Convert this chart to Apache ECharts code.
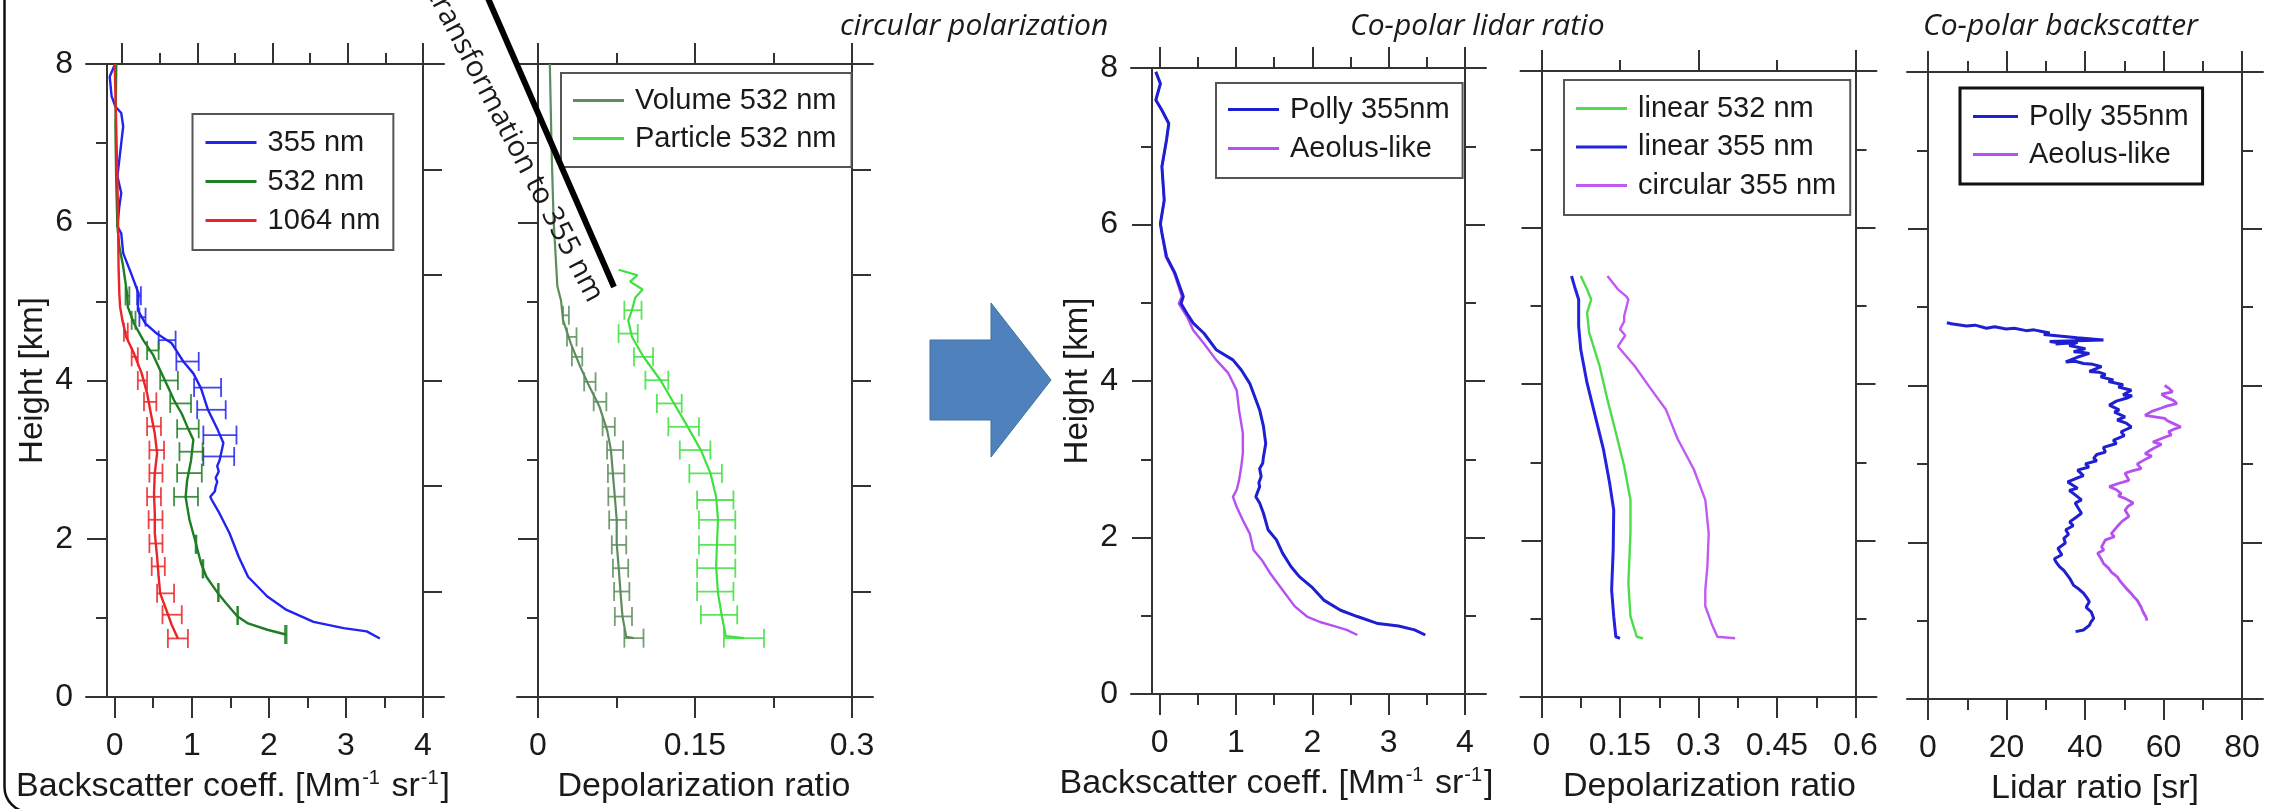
<!DOCTYPE html>
<html>
<head>
<meta charset="utf-8">
<script src="https://cdn.jsdelivr.net/npm/echarts@6/dist/echarts.min.js"></script>
<style>
  html, body { margin: 0; padding: 0; background: #fff; }
  #chart { width: 2271px; height: 809px; }
</style>
</head>
<body>
<div id="chart"></div>
<script>
// ---------- tick values ----------
const bscTicks = [0, 1, 2, 3, 4];
const bscMinor = [0.5, 1.5, 2.5, 3.5];
const depTicks = [0, 0.15, 0.3];
const depMinor = [0.075, 0.225];
const dep2Ticks = [0, 0.15, 0.3, 0.45, 0.6];
const dep2Minor = [0.075, 0.225, 0.375, 0.525];
const dep2TopTicks = [0, 0.3, 0.6];
const dep2TopMinor = [0.15, 0.45];
const lrTicks = [0, 20, 40, 60, 80];
const lrMinor = [10, 30, 50, 70];

// ---------- backscatter profiles, [value, height km] ----------
const bsc355 = [[3.44,0.74],[3.27,0.83],[2.97,0.87],[2.58,0.95],[2.23,1.10],[1.98,1.27],[1.73,1.52],[1.61,1.77],[1.49,2.07],[1.36,2.32],[1.26,2.49],[1.24,2.53],[1.30,2.60],[1.31,2.66],[1.33,2.72],[1.31,2.77],[1.35,2.85],[1.33,2.92],[1.36,2.99],[1.41,3.21],[1.34,3.37],[1.21,3.63],[1.12,3.90],[1.02,4.09],[0.89,4.24],[0.74,4.47],[0.55,4.59],[0.40,4.72],[0.30,4.89],[0.31,5.10],[0.21,5.36],[0.11,5.61],[0.085,5.86],[0.035,5.95],[0.06,6.20],[0.085,6.37],[0.035,6.58],[0.085,7.00],[0.11,7.21],[0.085,7.38],[0.01,7.46],[-0.04,7.59],[-0.065,7.84],[0.0,7.99]];
const bsc532 = [[2.22,0.79],[1.98,0.85],[1.73,0.93],[1.59,1.02],[1.44,1.19],[1.34,1.31],[1.19,1.52],[1.12,1.69],[1.04,1.99],[0.97,2.24],[0.94,2.41],[0.92,2.53],[0.94,2.74],[0.99,2.99],[1.02,3.25],[0.94,3.42],[0.87,3.58],[0.77,3.75],[0.69,3.92],[0.59,4.13],[0.50,4.32],[0.37,4.51],[0.25,4.72],[0.17,4.93],[0.16,5.10],[0.11,5.44],[0.06,5.69],[0.035,5.95],[0.02,6.5],[0.01,7.2],[0.02,8.0]];
const bsc1064 = [[0.82,0.74],[0.74,0.91],[0.67,1.10],[0.59,1.31],[0.57,1.52],[0.55,1.77],[0.52,2.07],[0.52,2.32],[0.51,2.57],[0.52,2.83],[0.55,3.08],[0.52,3.33],[0.47,3.58],[0.42,3.84],[0.35,4.09],[0.25,4.34],[0.15,4.55],[0.10,4.76],[0.07,4.93],[0.06,5.10],[0.05,5.44],[0.04,6.28],[0.02,7.2],[0.0,8.0]];
// error bars, [height km, low, high]
const err355 = [[5.07,0.29,0.34],[4.80,0.32,0.40],[4.51,0.57,0.79],[4.24,0.80,1.09],[3.91,1.03,1.38],[3.63,1.07,1.44],[3.31,1.15,1.58],[3.04,1.15,1.55]];
const err532 = [[0.79,2.21,2.23],[1.03,1.59,1.60],[1.32,1.34,1.35],[1.62,1.14,1.15],[1.93,1.05,1.06],[2.53,0.77,1.08],[2.83,0.81,1.13],[3.10,0.84,1.14],[3.39,0.81,1.09],[3.71,0.72,0.99],[4.00,0.59,0.82],[4.38,0.42,0.57],[4.76,0.22,0.27],[5.07,0.14,0.19]];
const err1064 = [[0.74,0.69,0.95],[1.04,0.62,0.87],[1.31,0.55,0.77],[1.65,0.48,0.65],[1.94,0.45,0.62],[2.24,0.44,0.62],[2.53,0.42,0.60],[2.83,0.45,0.62],[3.12,0.45,0.64],[3.42,0.42,0.60],[3.73,0.38,0.54],[4.00,0.30,0.42],[4.30,0.22,0.30],[4.61,0.12,0.17]];

// ---------- depolarization at 532 nm ----------
const volDep = [[0.0917,0.744],[0.0843,0.76],[0.0807,1.02],[0.0789,1.31],[0.0770,1.65],[0.0752,1.94],[0.0752,2.24],[0.0734,2.53],[0.0715,2.83],[0.0697,3.12],[0.0661,3.37],[0.0587,3.67],[0.0478,3.96],[0.0405,4.17],[0.0313,4.47],[0.024,4.76],[0.022,5.01],[0.0185,5.19],[0.0149,6.03],[0.0131,6.86],[0.0113,8.0]];
const parDep = [[0.197,0.744],[0.1794,0.77],[0.1757,1.02],[0.172,1.31],[0.1702,1.65],[0.171,1.94],[0.172,2.24],[0.1702,2.53],[0.1647,2.83],[0.1556,3.12],[0.1428,3.42],[0.13,3.71],[0.1172,4.0],[0.1008,4.30],[0.0898,4.55],[0.0862,4.76],[0.0898,4.89],[0.093,5.05],[0.1,5.15],[0.088,5.25],[0.095,5.33],[0.077,5.40]];
const errVol = [[0.744,0.0825,0.1008],[1.018,0.0734,0.0898],[1.333,0.0727,0.0873],[1.628,0.0716,0.0862],[1.922,0.0705,0.0843],[2.238,0.068,0.0843],[2.532,0.0672,0.0825],[2.826,0.0668,0.0825],[3.121,0.066,0.0813],[3.415,0.0617,0.0734],[3.731,0.0532,0.0653],[3.983,0.0441,0.055],[4.299,0.0324,0.0423],[4.551,0.0277,0.0368],[4.824,0.024,0.0295]];
const errPar = [[0.744,0.1776,0.2159],[1.039,0.1556,0.1903],[1.333,0.152,0.1867],[1.628,0.152,0.1885],[1.922,0.1538,0.1885],[2.238,0.1538,0.1885],[2.49,0.152,0.1867],[2.826,0.1446,0.1757],[3.121,0.1355,0.1647],[3.415,0.1245,0.1538],[3.71,0.1136,0.1373],[4.004,0.1026,0.1245],[4.299,0.0917,0.1099],[4.593,0.077,0.0953],[4.888,0.0825,0.0989]];

// ---------- co-polar backscatter at 355 nm ----------
const pollyBsc = [[3.48,0.754],[3.34,0.82],[3.13,0.87],[2.86,0.90],[2.59,0.99],[2.37,1.07],[2.15,1.20],[1.99,1.37],[1.83,1.50],[1.72,1.63],[1.61,1.80],[1.53,1.97],[1.42,2.10],[1.36,2.31],[1.31,2.44],[1.26,2.52],[1.31,2.65],[1.30,2.70],[1.33,2.78],[1.31,2.88],[1.35,2.95],[1.36,3.03],[1.39,3.20],[1.36,3.42],[1.31,3.63],[1.23,3.84],[1.18,3.97],[1.07,4.14],[0.96,4.27],[0.74,4.40],[0.58,4.61],[0.44,4.74],[0.36,4.86],[0.28,4.99],[0.31,5.08],[0.20,5.38],[0.09,5.59],[0.03,5.89],[0.01,6.01],[0.06,6.31],[0.03,6.74],[0.09,7.08],[0.12,7.29],[0.03,7.46],[-0.05,7.59],[0.01,7.80],[-0.05,7.95]];
const aeolusBsc = [[2.59,0.754],[2.45,0.82],[2.31,0.86],[2.10,0.92],[1.93,0.99],[1.77,1.12],[1.61,1.33],[1.45,1.54],[1.34,1.71],[1.23,1.84],[1.18,2.05],[1.09,2.22],[1.01,2.39],[0.96,2.52],[1.01,2.61],[1.04,2.73],[1.07,2.91],[1.09,3.08],[1.09,3.33],[1.04,3.63],[1.01,3.88],[0.90,4.10],[0.74,4.27],[0.58,4.48],[0.44,4.65],[0.36,4.82],[0.25,4.99],[0.29,5.08],[0.19,5.38],[0.08,5.59],[0.03,5.89],[0.01,6.01],[0.06,6.31],[0.03,6.74],[0.09,7.08],[0.12,7.29],[0.03,7.46],[-0.05,7.59],[0.01,7.80],[-0.05,7.95]];

// ---------- depolarization ratios ----------
const lin532 = [[0.194,0.75],[0.182,0.77],[0.170,1.03],[0.166,1.45],[0.170,2.10],[0.170,2.52],[0.158,2.95],[0.142,3.38],[0.126,3.80],[0.111,4.23],[0.091,4.66],[0.087,4.91],[0.095,5.08],[0.087,5.21],[0.075,5.38]];
const lin355 = [[0.150,0.75],[0.142,0.77],[0.138,1.03],[0.134,1.37],[0.137,1.88],[0.138,2.39],[0.130,2.74],[0.1185,3.16],[0.1027,3.59],[0.0868,4.02],[0.075,4.44],[0.071,4.74],[0.071,5.08],[0.063,5.25],[0.0574,5.38]];
const circ355 = [[0.370,0.75],[0.336,0.77],[0.325,0.94],[0.313,1.16],[0.313,1.37],[0.317,1.67],[0.3195,2.09],[0.313,2.52],[0.291,2.91],[0.26,3.30],[0.238,3.67],[0.2075,3.95],[0.178,4.23],[0.146,4.48],[0.16,4.62],[0.150,4.70],[0.158,4.80],[0.158,4.87],[0.166,5.08],[0.162,5.12],[0.146,5.21],[0.126,5.38]];

// ---------- lidar ratio [sr] ----------
const pollyLR = [[4.8,4.80],[6.8,4.78],[5.5,4.79],[9.8,4.76],[12,4.77],[14.9,4.73],[17,4.75],[19.9,4.72],[22,4.73],[25,4.70],[27,4.71],[29,4.69],[31,4.67],[29.5,4.65],[30,4.63],[38,4.61],[44.7,4.58],[31,4.56],[34.1,4.54],[32.5,4.53],[38.1,4.55],[36,4.51],[40.1,4.47],[37.1,4.43],[39.5,4.42],[41.1,4.41],[38,4.36],[35.1,4.30],[37.5,4.31],[39.6,4.28],[42,4.27],[44.2,4.24],[41.1,4.18],[43.5,4.17],[45.2,4.14],[44,4.11],[47.2,4.07],[46,4.05],[49.7,4.01],[48.5,3.98],[51.8,3.94],[49.7,3.88],[52,3.87],[50.7,3.84],[48,3.80],[46.2,3.75],[48.7,3.69],[47.5,3.66],[50.2,3.60],[48.2,3.56],[50.5,3.52],[51.8,3.47],[49.2,3.41],[50,3.36],[47.2,3.30],[48,3.26],[44.7,3.21],[45.2,3.15],[43,3.12],[42.2,3.07],[43,3.04],[40.1,3.00],[41,2.96],[38.1,2.92],[39.6,2.85],[37.5,2.81],[35.6,2.77],[38.1,2.69],[36,2.66],[37.1,2.62],[39.1,2.54],[37.5,2.50],[38.1,2.45],[39.1,2.37],[37.5,2.31],[36.1,2.26],[37,2.21],[35.1,2.16],[35.8,2.10],[34.6,2.05],[35,1.99],[33.1,1.92],[34.1,1.84],[32.2,1.79],[32.6,1.75],[33.5,1.69],[34.6,1.64],[35.5,1.58],[36.1,1.54],[37.1,1.45],[38.5,1.40],[39.6,1.35],[40.5,1.29],[41.1,1.24],[40.3,1.17],[41.6,1.11],[42.2,1.03],[41.5,0.98],[41.1,0.94],[39.6,0.88],[37.6,0.86]];
const aeolusLR = [[60.3,4.00],[61.5,3.96],[62.3,3.92],[59.5,3.89],[60.3,3.86],[62.5,3.81],[63.4,3.77],[61,3.74],[59.3,3.71],[57,3.67],[55.3,3.62],[60.3,3.58],[61,3.55],[62.3,3.52],[64.4,3.47],[62.5,3.44],[61.3,3.41],[62,3.37],[60.3,3.34],[57.3,3.28],[59.5,3.25],[58.3,3.22],[56.5,3.17],[55.3,3.13],[57,3.10],[55.8,3.07],[53.3,3.00],[54.3,2.94],[52,2.91],[50.2,2.88],[51.2,2.79],[48.5,2.75],[46.2,2.71],[48,2.67],[49.2,2.62],[48.5,2.59],[50.2,2.56],[52.3,2.50],[51,2.46],[50.2,2.41],[51.2,2.33],[49.5,2.27],[48.2,2.20],[46.7,2.11],[47.5,2.07],[45.2,2.03],[44.2,1.94],[44.8,1.90],[43.2,1.86],[44,1.80],[44.7,1.73],[46,1.67],[46.7,1.62],[48.2,1.56],[49,1.50],[50.2,1.43],[51.7,1.35],[52.5,1.30],[53.3,1.26],[54.3,1.17],[54.8,1.11],[55.5,1.05],[55.8,1.00]];

// ---------- layout ----------
const AX = '#333';
const FONT = '"Liberation Sans", Arial, sans-serif';
const NOTE_FONT = '"Open Sans", sans-serif';
const TXT = '#1a1a1a';
const bscName = 'Backscatter coeff. [Mm{s|-1} sr{s|-1}]';

const panels = [
  { left: 107, top: 64, width: 316, height: 633, xMin: -0.1, xMax: 4, topMin: -0.2,
    major: bscTicks, minor: bscMinor, topMajor: bscTicks, topMinor: bscMinor,
    xName: bscName, namePad: [0, 64, 0, 0], yLabels: true, rightMax: 6 },
  { left: 538, top: 64, width: 314, height: 633, xMin: 0, xMax: 0.3, topMin: 0,
    major: depTicks, minor: depMinor, topMajor: depTicks, topMinor: depMinor,
    xName: 'Depolarization ratio', namePad: [0, 0, 0, 18], yLabels: false, rightMax: 6 },
  { left: 1152, top: 68, width: 313, height: 626, xMin: -0.1, xMax: 4, topMin: -0.1,
    major: bscTicks, minor: bscMinor, topMajor: bscTicks, topMinor: bscMinor,
    xName: bscName, namePad: [0, 64, 0, 0], yLabels: true, rightMax: 8 },
  { left: 1541.5, top: 71, width: 314, height: 626, xMin: 0, xMax: 0.6, topMin: 0,
    major: dep2Ticks, minor: dep2Minor, topMajor: dep2TopTicks, topMinor: dep2TopMinor,
    xName: 'Depolarization ratio', namePad: [0, 0, 0, 22], yLabels: false, rightMax: 8 },
  { left: 1928, top: 72, width: 314, height: 627, xMin: 0, xMax: 80, topMin: 0,
    major: lrTicks, minor: lrMinor, topMajor: lrTicks, topMinor: lrMinor,
    xName: 'Lidar ratio [sr]', namePad: [0, 0, 0, 20], yLabels: false, rightMax: 8 }
];

const axisLineStyle = { color: AX, width: 2 };
const grids = [], xAxes = [], yAxes = [];

panels.forEach((p, i) => {
  const gi = i * 2;
  grids.push({ left: p.left, top: p.top, width: p.width, height: p.height, outerBoundsMode: 'none' });
  // wider grid that carries the horizontal frame lines overhanging the plot box
  grids.push({ left: p.left - 21, top: p.top, width: p.width + 42, height: p.height, outerBoundsMode: 'none' });

  const base = {
    type: 'value', gridIndex: gi, min: p.xMin, max: p.xMax,
    splitLine: { show: false }, axisLine: { show: false, onZero: false }
  };
  xAxes.push(Object.assign({}, base, {
    position: 'bottom',
    axisTick: { show: true, customValues: p.major, length: 21, lineStyle: axisLineStyle },
    axisLabel: { show: true, customValues: p.major, margin: 33, fontSize: 32, fontFamily: FONT, color: TXT },
    name: p.xName, nameLocation: 'middle', nameGap: 71,
    nameTextStyle: {
      fontSize: 34, fontFamily: FONT, color: TXT, lineHeight: 38, padding: p.namePad,
      rich: { s: { fontSize: 20, fontFamily: FONT, color: TXT, verticalAlign: 'top', lineHeight: 38, padding: [0, 2, 0, 1] } }
    }
  }));
  xAxes.push(Object.assign({}, base, {
    position: 'bottom',
    axisTick: { show: true, customValues: p.minor, length: 11, lineStyle: axisLineStyle },
    axisLabel: { show: false }
  }));
  xAxes.push(Object.assign({}, base, {
    position: 'top', min: p.topMin,
    axisTick: { show: true, customValues: p.topMajor, length: 21, lineStyle: axisLineStyle },
    axisLabel: { show: false }
  }));
  xAxes.push(Object.assign({}, base, {
    position: 'top', min: p.topMin,
    axisTick: { show: true, customValues: p.topMinor, length: 11, lineStyle: axisLineStyle },
    axisLabel: { show: false }
  }));
  ['bottom', 'top'].forEach(pos => {
    xAxes.push({
      type: 'value', gridIndex: gi + 1, position: pos, min: 0, max: 1,
      axisLine: { show: true, onZero: false, lineStyle: axisLineStyle },
      axisTick: { show: false }, axisLabel: { show: false }, splitLine: { show: false }
    });
  });

  yAxes.push({
    type: 'value', gridIndex: gi, position: 'left', min: 0, max: 8, interval: 2,
    axisLine: { show: true, onZero: false, lineStyle: axisLineStyle },
    axisTick: { show: true, length: 20, lineStyle: axisLineStyle },
    minorTick: { show: true, splitNumber: 2, length: 11, lineStyle: axisLineStyle },
    splitLine: { show: false }, minorSplitLine: { show: false },
    axisLabel: { show: p.yLabels, margin: 34, fontSize: 32, fontFamily: FONT, color: TXT },
    name: p.yLabels ? 'Height [km]' : '', nameLocation: 'middle', nameGap: 58,
    nameTextStyle: { fontSize: 33, fontFamily: FONT, color: TXT }
  });
  if (p.rightMax === 6) {
    yAxes.push({
      type: 'value', gridIndex: gi, position: 'right', min: 0, max: 6, interval: 1,
      axisLine: { show: true, onZero: false, lineStyle: axisLineStyle },
      axisTick: { show: true, length: 19, lineStyle: axisLineStyle },
      splitLine: { show: false }, axisLabel: { show: false }
    });
  } else {
    yAxes.push({
      type: 'value', gridIndex: gi, position: 'right', min: 0, max: 8, interval: 2,
      axisLine: { show: true, onZero: false, lineStyle: axisLineStyle },
      axisTick: { show: true, length: 20, lineStyle: axisLineStyle },
      minorTick: { show: true, splitNumber: 2, length: 11, lineStyle: axisLineStyle },
      splitLine: { show: false }, minorSplitLine: { show: false }, axisLabel: { show: false }
    });
  }
  yAxes.push({ type: 'value', gridIndex: gi + 1, show: false, min: 0, max: 1 });
});

// ---------- series ----------
const series = [];
function addLine(panel, name, data, color, width) {
  series.push({
    type: 'line', name: name, data: data,
    xAxisIndex: panel * 6, yAxisIndex: panel * 3,
    showSymbol: false, symbol: 'none', z: 3,
    lineStyle: { color: color, width: width }, itemStyle: { color: color }
  });
}
function addErrors(panel, name, errs, color) {
  series.push({
    type: 'custom', name: name, silent: true, z: 2,
    xAxisIndex: panel * 6, yAxisIndex: panel * 3,
    data: errs.map(e => [e[1], e[2], e[0]]),
    encode: { x: [0, 1], y: 2 },
    renderItem: function (params, api) {
      const h = api.value(2);
      const a = api.coord([api.value(0), h]);
      const b = api.coord([api.value(1), h]);
      const cap = 9.5;
      const st = { stroke: color, lineWidth: 1.8, opacity: 0.85 };
      return {
        type: 'group', children: [
          { type: 'line', shape: { x1: a[0], y1: a[1], x2: b[0], y2: b[1] }, style: st },
          { type: 'line', shape: { x1: a[0], y1: a[1] - cap, x2: a[0], y2: a[1] + cap }, style: st },
          { type: 'line', shape: { x1: b[0], y1: b[1] - cap, x2: b[0], y2: b[1] + cap }, style: st }
        ]
      };
    }
  });
}

const C355 = '#2323f0', C532 = '#1f7d22', C1064 = '#ea2428';
const CVOL = '#5d8d5d', CPAR = '#3fe03f';
const CPOLLY = '#1f1fd2', CAEOLUS = '#b650f0';
const CLIN532 = '#4cdc4c', CLIN355 = '#2222e0', CCIRC = '#c15af0';

addErrors(0, '355 nm error', err355, C355);
addErrors(0, '532 nm error', err532, C532);
addErrors(0, '1064 nm error', err1064, C1064);
addLine(0, '355 nm', bsc355, C355, 2.4);
addLine(0, '532 nm', bsc532, C532, 2.4);
addLine(0, '1064 nm', bsc1064, C1064, 2.4);

addErrors(1, 'Volume error', errVol, CVOL);
addErrors(1, 'Particle error', errPar, CPAR);
addLine(1, 'Volume 532 nm', volDep, CVOL, 2.2);
addLine(1, 'Particle 532 nm', parDep, CPAR, 2.2);

addLine(2, 'Aeolus-like', aeolusBsc, CAEOLUS, 2.4);
addLine(2, 'Polly 355nm', pollyBsc, CPOLLY, 3);

addLine(3, 'linear 532 nm', lin532, CLIN532, 2.4);
addLine(3, 'linear 355 nm', lin355, CLIN355, 3);
addLine(3, 'circular 355 nm', circ355, CCIRC, 2.4);

addLine(4, 'Polly 355nm', pollyLR, CPOLLY, 3);
addLine(4, 'Aeolus-like', aeolusLR, CAEOLUS, 2.8);

// ---------- legends ----------
function legendBox(names, left, top, gap, padding, itemWidth, border) {
  return {
    orient: 'vertical', left: left, top: top, data: names,
    icon: 'rect', itemWidth: itemWidth, itemHeight: 3, itemGap: gap, padding: padding,
    borderColor: border ? '#111' : '#555', borderWidth: border ? 3 : 2,
    backgroundColor: '#fff', selectedMode: false, z: 5,
    textStyle: { fontSize: 29, fontFamily: FONT, color: TXT, lineHeight: 28, padding: [0, 0, 0, 6] }
  };
}
const legends = [
  legendBox(['355 nm', '532 nm', '1064 nm'], 192.5, 114, 10, [14, 13, 15, 13], 51, false),
  legendBox(['Volume 532 nm', 'Particle 532 nm'], 561, 73, 9, [13, 15, 14, 12], 51, false),
  legendBox(['Polly 355nm', 'Aeolus-like'], 1216, 83, 10, [12, 13, 15, 12], 51, false),
  legendBox(['linear 532 nm', 'linear 355 nm', 'circular 355 nm'], 1564, 80, 9.5, [14, 14, 15, 12], 51, false),
  legendBox(['Polly 355nm', 'Aeolus-like'], 1960, 88, 9, [14, 14, 15, 13], 45, true)
];

// ---------- annotations ----------
const graphics = [
  { type: 'rect', silent: true, z: 0, shape: { x: 4.5, y: -50, width: 3000, height: 862, r: 25 },
    style: { fill: 'none', stroke: '#111', lineWidth: 2.5 } },
  { type: 'polygon', z: 10,
    shape: { points: [[930, 340], [991, 340], [991, 303], [1051, 380], [991, 457], [991, 420], [930, 420]] },
    style: { fill: '#4f81bd', stroke: '#41719c', lineWidth: 1 } },
  { type: 'line', z: 100, shape: { x1: 480, y1: -20, x2: 614, y2: 287 },
    style: { stroke: '#000', lineWidth: 6 } },
  { type: 'text', z: 100, x: 515, y: 145, rotation: -62.5 * Math.PI / 180,
    style: { text: 'transformation to 355 nm', fontSize: 29, fontFamily: NOTE_FONT, fill: TXT, align: 'center', verticalAlign: 'middle' } },
  { type: 'text', z: 100, x: 840, y: 26,
    style: { text: 'circular polarization', fontSize: 30, fontStyle: 'italic', fontFamily: NOTE_FONT, fill: TXT, align: 'left', verticalAlign: 'middle' } },
  { type: 'text', z: 100, x: 1350, y: 26,
    style: { text: 'Co-polar lidar ratio', fontSize: 30, fontStyle: 'italic', fontFamily: NOTE_FONT, fill: TXT, align: 'left', verticalAlign: 'middle' } },
  { type: 'text', z: 100, x: 1923, y: 26,
    style: { text: 'Co-polar backscatter', fontSize: 30, fontStyle: 'italic', fontFamily: NOTE_FONT, fill: TXT, align: 'left', verticalAlign: 'middle' } }
];

const chart = echarts.init(document.getElementById('chart'), null, { renderer: 'canvas', width: 2271, height: 809 });
chart.setOption({
  animation: false,
  backgroundColor: '#fff',
  grid: grids,
  xAxis: xAxes,
  yAxis: yAxes,
  legend: legends,
  series: series,
  graphic: graphics
});
</script>
</body>
</html>
